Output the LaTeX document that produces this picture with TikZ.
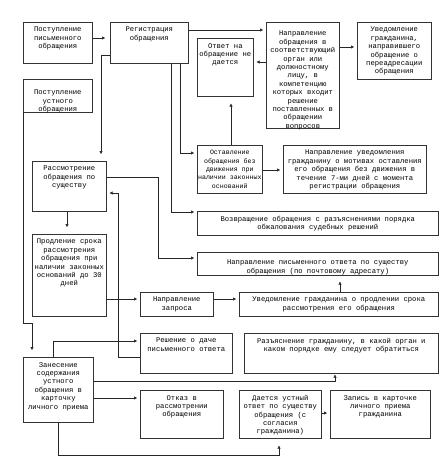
\documentclass[tikz,border=0pt]{standalone}
\usepackage{fontspec}
\newfontfamily\boxfont{Liberation Mono}
\usetikzlibrary{arrows.meta}

\tikzset{
  blk/.style={draw=black!80, line width=0.6pt, inner sep=0pt, anchor=north west},
  txt/.style={font=\boxfont\fontsize{7.2}{8.4}\selectfont, align=center, inner sep=0pt, below=5pt},
  arr/.style={draw=black!85, line width=0.5pt, -{Triangle[length=3pt,width=3pt]}, shorten >=3pt}
}

\begin{document}
\begin{tikzpicture}[x=1pt, y=-1pt]
    \useasboundingbox (0,0) rectangle (445,468);
    % Top row
    \node[blk, minimum width=69pt, minimum height=41pt, label={[txt]north:{Поступление\\письменного\\обращения}}] (pis) at (23,22) {};
    \node[blk, minimum width=78pt, minimum height=41pt, label={[txt]north:{Регистрация\\обращения}}] (reg) at (110,22) {};
    \node[blk, minimum width=73pt, minimum height=106pt, label={[txt, below=4pt]north:{Направление\\обращения в\\соответствующий\\орган или\\должностному\\лицу, в\\компетенцию\\которых входит\\решение\\поставленных в\\обращении\\вопросов}}] (nap) at (266,22) {};
    \node[blk, minimum width=74pt, minimum height=57pt, label={[txt]north:{Уведомление\\гражданина,\\направившего\\обращение о\\переадресации\\обращения}}] (uved) at (357,22) {};
    \node[blk, minimum width=56pt, minimum height=58pt, label={[txt]north:{Ответ на\\обращение не\\дается}}] (otv) at (197,38) {};
    \node[blk, minimum width=69pt, minimum height=33pt, label={[txt, below=6pt]north:{Поступление\\устного\\обращения}}] (ust) at (23,79) {};
    % Without movement / return
    \node[blk, minimum width=65pt, minimum height=48pt, label={[txt, font=\boxfont\fontsize{6.6}{8.4}\selectfont]north:{Оставление\\обращения без\\движения при\\наличии законных\\оснований}}] (ost) at (197,145) {};
    \node[blk, minimum width=143pt, minimum height=48pt, label={[txt]north:{Направление уведомления\\гражданину о мотивах оставления\\его обращения без движения в\\течение 7-ми дней с момента\\регистрации обращения}}] (napuv) at (283,145) {};
    \node[blk, minimum width=74pt, minimum height=50pt, label={[txt]north:{Рассмотрение\\обращения по\\существу}}] (ras) at (32,161) {};
    \node[blk, minimum width=241pt, minimum height=24pt, label={[txt]north:{Возвращение обращения с разъяснениями порядка\\обжалования судебных решений}}] (vozv) at (197,211) {};
    \node[blk, minimum width=241pt, minimum height=23pt, label={[txt, below=3pt]north:{Направление письменного ответа по существу\\обращения (по почтовому адресату)}}] (pism) at (197,252) {};
    % Extension of term
    \node[blk, minimum width=74pt, minimum height=82pt, label={[txt]north:{Продление срока\\рассмотрения\\обращения при\\наличии законных\\оснований до 30\\дней}}] (prod) at (32,234) {};
    \node[blk, minimum width=73pt, minimum height=24pt, label={[txt]north:{Направление\\запроса}}] (zapr) at (140,292) {};
    \node[blk, minimum width=199pt, minimum height=24pt, label={[txt]north:{Уведомление гражданина о продлении срока\\рассмотрения его обращения}}] (prodl) at (239,292) {};
    \node[blk, minimum width=92pt, minimum height=40pt, label={[txt]north:{Решение о даче\\письменного ответа}}] (resh) at (140,333) {};
    \node[blk, minimum width=194pt, minimum height=40pt, label={[txt]north:{Разъяснение гражданину, в какой орган и\\каком порядке ему следует обратиться}}] (razj) at (244,333) {};
    % Oral appeal
    \node[blk, minimum width=70pt, minimum height=65pt, label={[txt]north:{Занесение\\содержания\\устного\\обращения в\\карточку\\личного приема}}] (zan) at (23,357) {};
    \node[blk, minimum width=83pt, minimum height=48pt, label={[txt]north:{Отказ в\\рассмотрении\\обращения}}] (otk) at (140,390) {};
    \node[blk, minimum width=82pt, minimum height=48pt, label={[txt]north:{Дается устный\\ответ по существу\\обращения (с\\согласия\\гражданина)}}] (dae) at (239,390) {};
    \node[blk, minimum width=100pt, minimum height=48pt, label={[txt]north:{Запись в карточке\\личного приема\\гражданина}}] (zap) at (330,390) {};
    % Connectors
    \draw[arr, shorten >=5pt] (pis.east |- 0,38) -- (reg.west |- 0,38);
    \draw[arr] (reg.east |- 0,30) -- (nap.west |- 0,30);
    \draw[arr] (nap.east |- 0,47) -- (uved.west |- 0,47);
    \draw[arr] (nap.west |- 0,62) -- (otv.east |- 0,62);
    \draw[arr, shorten >=7pt] (ost.north -| 231,0) -- (otv.south -| 231,0);
    \draw[arr, shorten >=7pt] (reg.west |- 0,55) -| (ras.north -| 101,0);
    \draw[arr] (reg.south -| 180,0) |- (ost.west |- 0,153);
    \draw[arr] (reg.south -| 171,0) |- (vozv.west |- 0,212);
    \draw[arr] (ost.east |- 0,170) -- (napuv.west |- 0,170);
    \draw[arr] (ras.east |- 0,177) -| (158,258) -- (pism.west |- 0,258);
    \draw[arr, shorten >=7pt] (ras.south -| 67,0) -- (prod.north -| 67,0);
    \draw[arr] (resh.west |- 0,357) -| (118,193) -- (ras.east |- 0,193);
    \draw[arr] (prod.east |- 0,299) -- (zapr.west |- 0,299);
    \draw[arr] (zapr.east |- 0,299) -- (prodl.west |- 0,299);
    \draw[arr, shorten >=6pt] (prodl.north -| 340,0) -- (pism.south -| 340,0);
    \draw[arr, shorten >=7pt] (ust.south west) |- (32,323) -- (zan.north -| 32,0);
    \draw[arr] (zan.north -| 53,0) |- (resh.west |- 0,341);
    \draw[arr, shorten >=1pt] (zan.east |- 0,381) -| (razj.south -| 335,0);
    \draw[arr] (zan.east |- 0,398) -- (otk.west |- 0,398);
    \draw[arr, shorten >=7pt] (zan.south) |- (279,455) -- (dae.south -| 279,0);
    \draw[arr] (dae.east |- 0,413) -- (zap.west |- 0,413);
\end{tikzpicture}
\end{document}
